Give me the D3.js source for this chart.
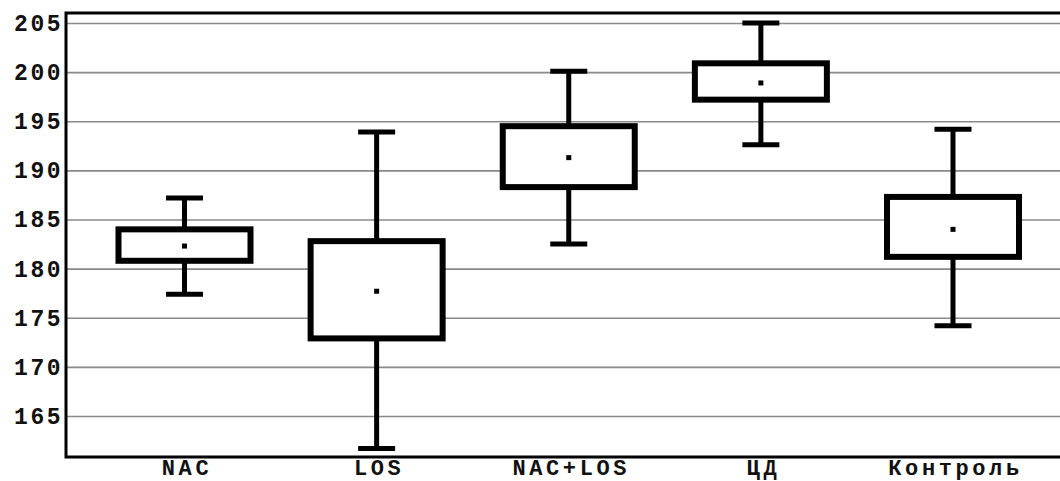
<!DOCTYPE html>
<html>
<head>
<meta charset="utf-8">
<script src="https://cdn.jsdelivr.net/npm/d3@7"></script>
<style>
  body { margin: 0; background: #fff; }
  svg { display: block; }
</style>
</head>
<body>
<div id="container"></div>
<script>
/* DATA */
const groups = ["NAC", "LOS", "NAC+LOS", "ЦД", "Контроль"];
const whiskerHigh = [187.2, 193.9, 200.1, 205.0, 194.2];
const boxHigh     = [184.0, 182.8, 194.5, 200.9, 187.3];
const middle      = [182.3, 177.7, 191.3, 198.9, 184.0];
const boxLow      = [180.8, 172.9, 188.3, 197.2, 181.2];
const whiskerLow  = [177.4, 161.7, 182.5, 192.6, 174.2];
const yTicks = [165, 170, 175, 180, 185, 190, 195, 200, 205];

/* CONSTANTS AND GLOBALS */
const width = 1060,
  height = 481,
  margin = { top: 13, bottom: 24, left: 66, right: 0 };

const data = groups.map((g, i) => ({
  group: g,
  wHi: whiskerHigh[i],
  bHi: boxHigh[i],
  mid: middle[i],
  bLo: boxLow[i],
  wLo: whiskerLow[i]
}));

/* SCALES */
const xScale = d3.scalePoint()
  .domain(groups)
  .range([184.5, 953]);

const yScale = d3.scaleLinear()
  .domain([160.83, 206.02])
  .range([height - margin.bottom, margin.top]);

const boxWidth = 132,
  capWidth = 37;

/* SVG */
const svg = d3.select("#container")
  .append("svg")
  .attr("width", width)
  .attr("height", height);

// grid lines
svg.append("g")
  .attr("transform", `translate(${margin.left},0)`)
  .call(d3.axisLeft(yScale).tickValues(yTicks).tickSize(-(width - margin.left)).tickFormat(""))
  .call(g => g.select(".domain").remove())
  .call(g => g.selectAll("line").attr("stroke", "#8a8a8a").attr("stroke-width", 1.6));

// y axis labels
svg.append("g")
  .attr("transform", `translate(${margin.left},0)`)
  .call(d3.axisLeft(yScale).tickValues(yTicks).tickSize(0).tickPadding(3))
  .call(g => g.select(".domain").remove())
  .call(g => g.selectAll("text")
    .attr("fill", "#111")
    .style("font-family", "'Liberation Mono', monospace")
    .style("font-weight", "bold")
    .style("font-size", "23px")
    .style("letter-spacing", "2.5px"));

// x axis labels
svg.append("g")
  .attr("transform", `translate(0,${height - margin.bottom})`)
  .call(d3.axisBottom(xScale).tickSize(0).tickPadding(0))
  .call(g => g.select(".domain").remove())
  .call(g => g.selectAll("text")
    .attr("dy", null)
    .attr("y", 18)
    .attr("dx", "2px")
    .attr("fill", "#111")
    .style("font-family", "'Liberation Mono', monospace")
    .style("font-weight", "bold")
    .style("font-size", "22px")
    .style("letter-spacing", "3.6px"));

// whiskers
const box = svg.selectAll(".box")
  .data(data)
  .join("g")
  .attr("class", "box");

box.append("line")
  .attr("x1", d => xScale(d.group))
  .attr("x2", d => xScale(d.group))
  .attr("y1", d => yScale(d.wHi))
  .attr("y2", d => yScale(d.wLo))
  .attr("stroke", "#000")
  .attr("stroke-width", 5);

box.append("line")
  .attr("x1", d => xScale(d.group) - capWidth / 2)
  .attr("x2", d => xScale(d.group) + capWidth / 2)
  .attr("y1", d => yScale(d.wHi))
  .attr("y2", d => yScale(d.wHi))
  .attr("stroke", "#000")
  .attr("stroke-width", 5);

box.append("line")
  .attr("x1", d => xScale(d.group) - capWidth / 2)
  .attr("x2", d => xScale(d.group) + capWidth / 2)
  .attr("y1", d => yScale(d.wLo))
  .attr("y2", d => yScale(d.wLo))
  .attr("stroke", "#000")
  .attr("stroke-width", 5);

// boxes
box.append("rect")
  .attr("x", d => xScale(d.group) - boxWidth / 2)
  .attr("width", boxWidth)
  .attr("y", d => yScale(d.bHi))
  .attr("height", d => yScale(d.bLo) - yScale(d.bHi))
  .attr("fill", "#fff")
  .attr("stroke", "#000")
  .attr("stroke-width", 6);

// middle point
box.append("rect")
  .attr("x", d => xScale(d.group) - 2.5)
  .attr("y", d => yScale(d.mid) - 2.5)
  .attr("width", 5)
  .attr("height", 5)
  .attr("fill", "#000");

// frame: left, bottom, top
const frame = svg.append("g")
  .attr("stroke", "#000")
  .attr("stroke-width", 3)
  .attr("fill", "none");

frame.append("path")
  .attr("d", `M${width},${margin.top}H${margin.left}V${height - margin.bottom}H${width}`);
</script>
</body>
</html>
